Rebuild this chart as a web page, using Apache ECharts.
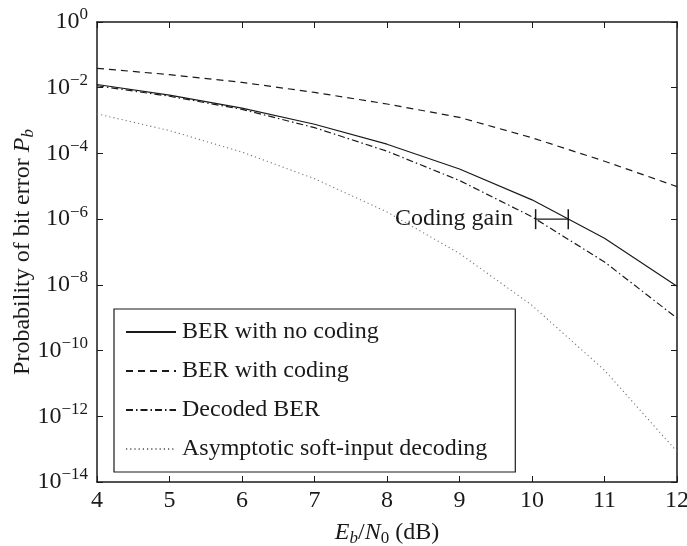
<!DOCTYPE html>
<html>
<head>
<meta charset="utf-8">
<script src="https://cdn.jsdelivr.net/npm/echarts@6/dist/echarts.min.js"></script>
<style>
html, body { margin: 0; padding: 0; background: #fff; }
#chart { width: 687px; height: 546px; }
</style>
</head>
<body>
<div id="chart"></div>
<script>
// Eb/N0 (dB)
var ebno = [4, 5, 6, 7, 8, 9, 10, 11, 12];
var berNoCoding = [1.25e-2, 5.95e-3, 2.39e-3, 7.73e-4, 1.91e-4, 3.36e-5, 3.87e-6, 2.61e-7, 9.0e-9];
var berCoding   = [3.9e-2, 2.5e-2, 1.45e-2, 7.2e-3, 3.2e-3, 1.25e-3, 3.0e-4, 5.8e-5, 9.8e-6];
var berDecoded  = [1.15e-2, 5.5e-3, 2.2e-3, 6.1e-4, 1.17e-4, 1.5e-5, 1.18e-6, 4.98e-8, 9.7e-10];
var berSoft     = [1.6e-3, 4.96e-4, 1.10e-4, 1.70e-5, 1.65e-6, 9.03e-8, 2.38e-9, 2.52e-11, 8.4e-14];
// coding gain marker
var gainX = [10.05, 10.5];
var gainY = 1e-6;

var names = ['BER with no coding', 'BER with coding', 'Decoded BER', 'Asymptotic soft-input decoding'];
var serif = 'Liberation Serif';
var ink = '#1a1a1a';
var fs = 24;

var pairs = function(ys) {
    var out = [];
    for (var i = 0; i < ebno.length; i++) {
        out.push([ebno[i], ys[i]]);
    }
    return out;
};

var supLabel = function(v) {
    var e = Math.round(Math.log10(v));
    var s = e < 0 ? '\u2212' + (-e) : '' + e;
    return '{b|10}{s|' + s + '}';
};

var nameRich = {
    i: { fontFamily: serif, fontSize: fs, fontStyle: 'italic', color: ink },
    n: { fontFamily: serif, fontSize: fs, color: ink },
    sub: { fontFamily: serif, fontSize: 17, color: ink, fontStyle: 'italic', verticalAlign: 'top', padding: [12, 0, 0, 0] },
    subn: { fontFamily: serif, fontSize: 17, color: ink, verticalAlign: 'top', padding: [12, 0, 0, 0] }
};

var chart = echarts.init(document.getElementById('chart'));

var option = {
    backgroundColor: '#fff',
    animation: false,
    textStyle: { fontFamily: serif, color: ink },
    grid: { left: 97, right: 10, top: 22, bottom: 64, outerBoundsMode: 'none', containLabel: false },
    legend: {
        data: names,
        orient: 'vertical',
        left: 114,
        top: 309,
        padding: [11, 28, 11, 11],
        itemGap: 15,
        itemWidth: 50,
        itemHeight: 14,
        borderColor: ink,
        borderWidth: 1.2,
        backgroundColor: '#fff',
        itemStyle: { opacity: 0 },
        textStyle: { fontFamily: serif, fontSize: fs, color: ink, padding: [0, 0, 0, 1] }
    },
    xAxis: [{
        type: 'value',
        min: 4,
        max: 12,
        interval: 1,
        name: '{i|E}{sub|b}{n|/}{i|N}{subn|0}{n| (dB)}',
        nameLocation: 'middle',
        nameGap: 36,
        nameMoveOverlap: false,
        nameTextStyle: { rich: nameRich },
        axisLine: { lineStyle: { color: ink, width: 1.5 } },
        axisTick: { inside: true, length: 6, lineStyle: { color: ink } },
        axisLabel: { fontFamily: serif, fontSize: fs, color: ink, margin: 7 },
        splitLine: { show: false }
    }, {
        type: 'value',
        position: 'top',
        min: 4,
        max: 12,
        interval: 1,
        axisLine: { lineStyle: { color: ink, width: 1.5 } },
        axisTick: { inside: true, length: 6, lineStyle: { color: ink } },
        axisLabel: { show: false },
        splitLine: { show: false }
    }],
    yAxis: [{
        type: 'log',
        logBase: 10,
        min: 1e-14,
        max: 1,
        interval: 2,
        name: '{n|Probability of bit error }{i|P}{sub|b}',
        nameLocation: 'middle',
        nameGap: 60,
        nameMoveOverlap: false,
        nameTextStyle: { rich: nameRich },
        axisLine: { show: true, lineStyle: { color: ink, width: 1.5 } },
        axisTick: { inside: true, length: 6, lineStyle: { color: ink } },
        axisLabel: {
            margin: 9,
            formatter: supLabel,
            rich: {
                b: { fontFamily: serif, fontSize: fs, color: ink },
                s: { fontFamily: serif, fontSize: 17, color: ink, verticalAlign: 'bottom', padding: [0, 0, 14, 0] }
            }
        },
        splitLine: { show: false }
    }, {
        type: 'log',
        logBase: 10,
        position: 'right',
        min: 1e-14,
        max: 1,
        interval: 2,
        axisLine: { show: true, lineStyle: { color: ink, width: 1.5 } },
        axisTick: { inside: true, length: 6, lineStyle: { color: ink } },
        axisLabel: { show: false },
        splitLine: { show: false }
    }],
    series: [{
        name: names[0],
        type: 'line',
        symbol: 'none',
        data: pairs(berNoCoding),
        lineStyle: { color: ink, width: 1.2, type: 'solid' },
        itemStyle: { color: ink }
    }, {
        name: names[1],
        type: 'line',
        symbol: 'none',
        data: pairs(berCoding),
        lineStyle: { color: ink, width: 1.2, type: [7, 5] },
        itemStyle: { color: ink }
    }, {
        name: names[2],
        type: 'line',
        symbol: 'none',
        data: pairs(berDecoded),
        lineStyle: { color: ink, width: 1.2, type: [7, 3, 1.5, 3] },
        itemStyle: { color: ink }
    }, {
        name: names[3],
        type: 'line',
        symbol: 'none',
        data: pairs(berSoft),
        lineStyle: { color: '#777', width: 1.1, type: [1.2, 3] },
        itemStyle: { color: '#777' }
    }, {
        name: 'gain',
        type: 'line',
        symbol: 'rect',
        symbolSize: [1.5, 20],
        showSymbol: true,
        data: [[gainX[0], gainY], [gainX[1], gainY]],
        lineStyle: { color: ink, width: 1.2 },
        itemStyle: { color: ink },
        label: {
            show: true,
            position: 'left',
            distance: 22,
            fontFamily: serif,
            fontSize: fs,
            color: ink,
            formatter: function(p) { return p.dataIndex === 0 ? 'Coding gain' : ''; }
        }
    }]
};

chart.setOption(option);
</script>
</body>
</html>
